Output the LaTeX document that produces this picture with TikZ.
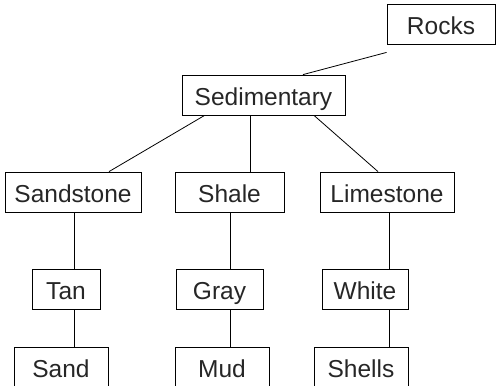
\documentclass[tikz,border=0pt]{standalone}
\usepackage{fontspec}
\setmainfont{Liberation Sans}
\begin{document}
\begin{tikzpicture}[x=1pt,y=-1pt,
  box/.style={draw, line width=0.8pt, inner sep=0pt, minimum height=40pt,
    text height=21.5pt, text depth=0pt,
    font=\fontsize{24.5}{28}\selectfont, text=black!85},
  link/.style={line width=0.8pt}]
\useasboundingbox (0,0) rectangle (499,386);
\clip (0,0) rectangle (499,386);

% root and first level
\node[box, minimum width=108pt] (rocks) at (441,24) {Rocks};
\node[box, minimum width=163pt] (sed) at (263.5,95) {Sedimentary};

% second level
\node[box, minimum width=136pt] (sandstone) at (73,192) {Sandstone};
\node[box, minimum width=109pt] (shale) at (229.5,192) {Shale};
\node[box, minimum width=134pt] (limestone) at (387,192) {Limestone};

% colours
\node[box, minimum width=68pt] (tan) at (66,289) {Tan};
\node[box, minimum width=87pt] (gray) at (219.5,289) {Gray};
\node[box, minimum width=86pt] (white) at (365,289) {White};

% grains
\node[box, minimum width=94pt] (sand) at (61,367) {Sand};
\node[box, minimum width=94pt] (mud) at (222,367) {Mud};
\node[box, minimum width=94pt] (shells) at (361,367) {Shells};

% connectors
\draw[link] ([yshift=-8pt]rocks.south west) -- ([xshift=39.5pt]sed.north);
\draw[link] ([xshift=23pt]sed.south west) -- ([xshift=36pt]sandstone.north);
\draw[link] ([xshift=-13.5pt]sed.south) -- ([xshift=20.5pt]shale.north);
\draw[link] ([xshift=50.5pt]sed.south) -- ([xshift=-9pt]limestone.north);

\draw[link] ([xshift=1pt]sandstone.south) -- ([xshift=1pt]sandstone.south |- tan.north);
\draw[link] ([xshift=8pt]tan.south) -- ([xshift=8pt]tan.south |- sand.north);
\draw[link] ([xshift=0.5pt]shale.south) -- ([xshift=0.5pt]shale.south |- gray.north);
\draw[link] ([xshift=10.5pt]gray.south) -- ([xshift=10.5pt]gray.south |- mud.north);
\draw[link] ([xshift=2pt]limestone.south) -- ([xshift=2pt]limestone.south |- white.north);
\draw[link] ([xshift=24pt]white.south) -- ([xshift=24pt]white.south |- shells.north);
\end{tikzpicture}
\end{document}
